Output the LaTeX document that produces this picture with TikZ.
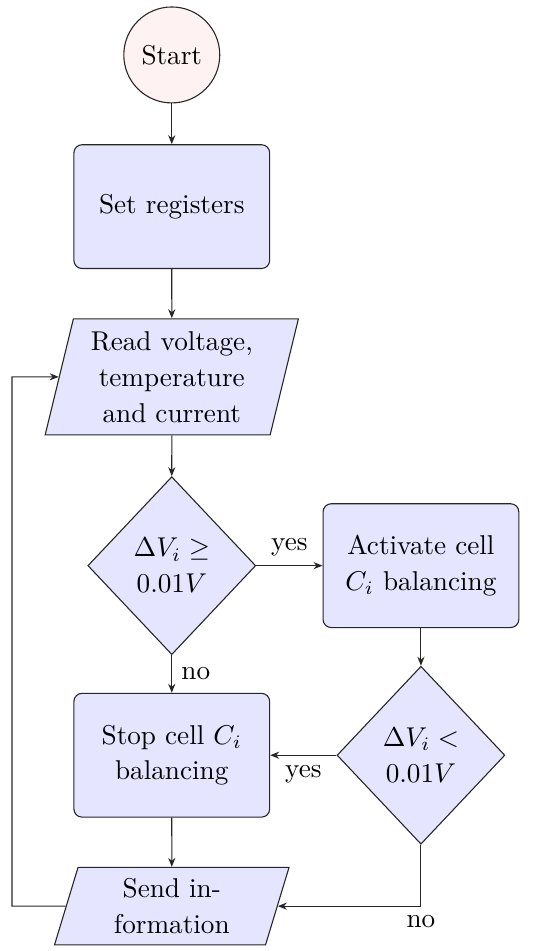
\documentclass[tikz,border=0pt]{standalone}
\usepackage{amsmath}
\usepackage{amssymb}
\usepackage{xcolor}
\usepackage{tikz}
\usetikzlibrary{arrows.meta,positioning,shapes.geometric}

\newcommand{\flowfont}{\fontsize{10pt}{13.2pt}\selectfont}

\begin{document}
\begin{tikzpicture}[
  startnode/.style={circle, draw=black!85, fill=red!5, minimum size=1.24cm, inner sep=1pt, font=\flowfont},
  proc/.style={rectangle, rounded corners=3pt, draw=black!85, fill=blue!10, minimum width=2.53cm,
    minimum height=1.6cm, align=center, font=\flowfont},
  io/.style={trapezium, trapezium left angle=76, trapezium right angle=104, trapezium stretches=true,
    draw=black!85, fill=blue!10, minimum width=3.28cm, minimum height=1.5cm, inner sep=1pt,
    align=center, font=\flowfont},
  dec/.style={diamond, draw=black!85, fill=blue!10, minimum width=2.17cm, minimum height=2.3cm,
    inner sep=0pt, align=center, font=\flowfont},
  arr/.style={draw=black!85, -{Stealth[length=3.3pt,width=2.6pt]}},
  lbl/.style={font=\flowfont, text=black}
]
  \useasboundingbox (0,0) rectangle (7.18,-12.29);

  \node[startnode] (start) at (2.22,-0.71) {Start};
  \node[proc] (setreg) at (2.22,-2.67) {Set registers};
  \node[io] (read) at (2.22,-4.87) {Read voltage,\\ temperature\\ and current};
  \node[dec] (dec1) at (2.22,-7.31) {$\Delta V_i \geq$\\ $0.01V$};
  \node[proc] (activate) at (5.44,-7.31) {Activate cell\\ $C_i$ balancing};
  \node[dec] (dec2) at (5.44,-9.76) {$\Delta V_i <$\\ $0.01V$};
  \node[proc] (stopbal) at (2.22,-9.76) {Stop cell $C_i$\\ balancing};
  \node[io, minimum width=3.04cm, minimum height=1cm] (send) at (2.22,-11.71) {Send in-\\formation};
  \coordinate (loop) at (0.155,-11.71);

  \foreach \u/\v in {start/setreg,setreg/read,read/dec1,activate/dec2,stopbal/send}
    \draw[arr] (\u) -- (\v);
  \draw[arr] (dec1) -- node[lbl, above] {yes} (activate);
  \draw[arr] (dec1) -- node[lbl, right] {no} (stopbal);
  \draw[arr] (dec2) -- node[lbl, below] {yes} (stopbal);
  \draw[arr] (dec2.south) |- node[lbl, pos=0.5, below] {no} (send.east);
  \draw[arr] (send.west) -- (loop) |- (read.west);
\end{tikzpicture}
\end{document}
